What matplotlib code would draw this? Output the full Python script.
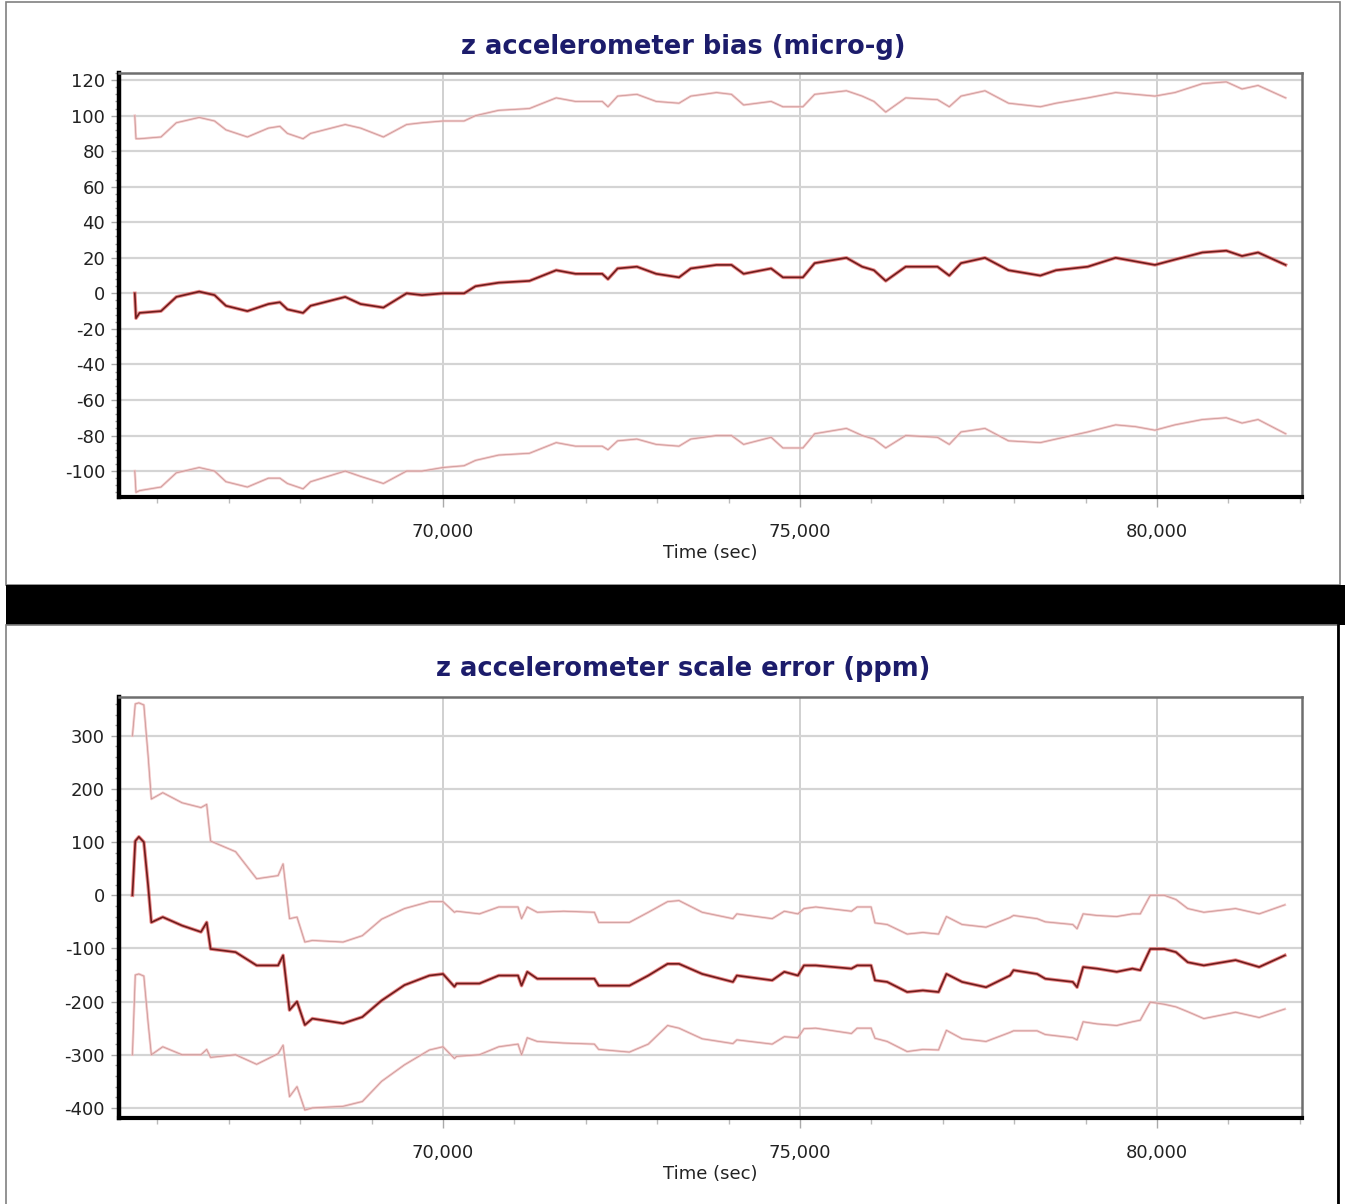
import matplotlib.pyplot as plt
import matplotlib.ticker as mticker
from matplotlib.patches import Rectangle

plt.rcParams['axes.unicode_minus'] = False

# z accelerometer bias (micro-g): estimate and +/- bounds
t_bias = [65683, 65700, 65750, 66050, 66265, 66585, 66800, 66960, 67260, 67555,
          67715, 67820, 68040, 68145, 68630, 68845, 69165, 69490, 69705, 70000,
          70295, 70455, 70780, 71210, 71585, 71855, 72230, 72310, 72445, 72715,
          72985, 73305, 73470, 73830, 74040, 74210, 74595, 74760, 75040, 75205,
          75650, 75870, 76035, 76200, 76480, 76925, 77090, 77255, 77590, 77920,
          78365, 78585, 79030, 79420, 79695, 79970, 80250, 80635, 80970, 81190,
          81415, 81800]
bias_mid = [0, -14, -11, -10, -2, 1, -1, -7, -10, -6,
            -5, -9, -11, -7, -2, -6, -8, 0, -1, 0,
            0, 4, 6, 7, 13, 11, 11, 8, 14, 15,
            11, 9, 14, 16, 16, 11, 14, 9, 9, 17,
            20, 15, 13, 7, 15, 15, 10, 17, 20, 13,
            10, 13, 15, 20, 18, 16, 19, 23, 24, 21,
            23, 16]
bias_up = [100, 87, 87, 88, 96, 99, 97, 92, 88, 93,
           94, 90, 87, 90, 95, 93, 88, 95, 96, 97,
           97, 100, 103, 104, 110, 108, 108, 105, 111, 112,
           108, 107, 111, 113, 112, 106, 108, 105, 105, 112,
           114, 111, 108, 102, 110, 109, 105, 111, 114, 107,
           105, 107, 110, 113, 112, 111, 113, 118, 119, 115,
           117, 110]
bias_lo = [-100, -112, -111, -109, -101, -98, -100, -106, -109, -104,
           -104, -107, -110, -106, -100, -103, -107, -100, -100, -98,
           -97, -94, -91, -90, -84, -86, -86, -88, -83, -82,
           -85, -86, -82, -80, -80, -85, -81, -87, -87, -79,
           -76, -80, -82, -87, -80, -81, -85, -78, -76, -83,
           -84, -82, -78, -74, -75, -77, -74, -71, -70, -73,
           -71, -79]

# z accelerometer scale error (ppm): estimate and +/- bounds
t_scale = [65650, 65690, 65740, 65810, 65870, 65915, 66075, 66345, 66610, 66690,
           66745, 67095, 67390, 67690, 67760, 67850, 67955, 68065, 68170, 68600,
           68870, 69140, 69460, 69810, 70000, 70160, 70190, 70510, 70780, 71050,
           71100, 71180, 71320, 71690, 72120, 72180, 72610, 72875, 73145, 73305,
           73630, 74060, 74115, 74610, 74780, 74970, 75055, 75220, 75720, 75800,
           75995, 76050, 76220, 76500, 76720, 76940, 77050, 77270, 77605, 77940,
           77990, 78320, 78435, 78820, 78880, 78965, 79160, 79435, 79655, 79765,
           79905, 80100, 80265, 80430, 80655, 81100, 81430, 81790]
scale_mid = [0, 102, 110, 100, 18, -51, -41, -57, -69, -51,
             -101, -107, -132, -132, -113, -216, -200, -244, -232, -241,
             -229, -198, -169, -151, -148, -172, -166, -166, -151, -151,
             -170, -144, -157, -157, -157, -170, -170, -151, -129, -129,
             -148, -163, -151, -160, -144, -151, -132, -132, -138, -132,
             -132, -160, -163, -182, -179, -182, -148, -163, -173, -151,
             -141, -148, -157, -163, -173, -135, -138, -144, -138, -141,
             -101, -101, -107, -126, -132, -122, -135, -113]
scale_up = [300, 360, 362, 358, 262, 181, 193, 174, 165, 171,
            102, 82, 31, 37, 59, -44, -41, -88, -85, -88,
            -76, -45, -25, -12, -12, -32, -30, -35, -22, -22,
            -44, -22, -32, -30, -32, -51, -51, -32, -12, -10,
            -32, -44, -35, -44, -30, -35, -25, -22, -30, -22,
            -22, -52, -55, -73, -70, -73, -40, -55, -60, -42,
            -38, -44, -50, -55, -63, -35, -38, -40, -35, -35,
            0, 0, -8, -25, -32, -25, -35, -18]
scale_lo = [-300, -150, -148, -152, -240, -300, -285, -300, -300, -290,
            -305, -300, -318, -298, -282, -379, -360, -404, -400, -397,
            -388, -350, -319, -291, -285, -307, -303, -300, -285, -280,
            -300, -268, -275, -278, -280, -290, -295, -280, -245, -250,
            -270, -279, -272, -280, -266, -268, -251, -250, -260, -250,
            -250, -269, -275, -294, -290, -291, -254, -270, -275, -258,
            -255, -255, -262, -268, -272, -238, -242, -245, -238, -235,
            -201, -205, -210, -219, -232, -220, -230, -214]

x_ticks = [70000, 75000, 80000]
bias_ticks = list(range(-100, 121, 20))
scale_ticks = list(range(-400, 301, 100))

W, H = 1345, 1204
fig = plt.figure(figsize=(W / 100, H / 100), dpi=100)
fig.patch.set_facecolor('white')


def px(x0, y0, x1, y1):
    # pixel box -> figure fraction rect
    return [x0 / W, 1 - y1 / H, (x1 - x0) / W, (y1 - y0) / H]


# panel frames and the black separator band
fig.patches.append(Rectangle((6 / W, 1 - 585 / H), 1334 / W, 583 / H, transform=fig.transFigure,
                             fill=False, edgecolor='#808080', lw=1.2))
fig.patches.append(Rectangle((6 / W, 1 - 625 / H), 1 - 6 / W, 40 / H, transform=fig.transFigure,
                             facecolor='black', edgecolor='none'))
fig.patches.append(Rectangle((6 / W, -0.01), 1332 / W, 1 - 625 / H + 0.01, transform=fig.transFigure,
                             fill=False, edgecolor='#808080', lw=1.2))
fig.add_artist(plt.Line2D([1338 / W, 1338 / W], [0, 1 - 625 / H], transform=fig.transFigure,
                          color='black', lw=2))


def style_axes(ax, yticks, ylim, minor_y):
    ax.set_xlim(65462, 82030)
    ax.set_ylim(*ylim)
    ax.set_xticks(x_ticks)
    ax.xaxis.set_major_formatter(mticker.FuncFormatter(lambda v, p: f'{int(v):,}'))
    ax.xaxis.set_minor_locator(mticker.MultipleLocator(1000))
    ax.set_yticks(yticks)
    ax.yaxis.set_minor_locator(mticker.MultipleLocator(minor_y))
    ax.grid(axis='y', color='#d4d4d4', lw=1.6)
    ax.grid(axis='x', color='#c8c8c8', lw=1.2)
    ax.set_axisbelow(True)
    ax.spines['left'].set_linewidth(3.2)
    ax.spines['left'].set_color('black')
    ax.spines['bottom'].set_linewidth(3.0)
    ax.spines['bottom'].set_color('black')
    for s in ('top', 'right'):
        ax.spines[s].set_linewidth(1.8)
        ax.spines[s].set_color('#6e6e6e')
    ax.tick_params(axis='y', which='major', length=6, width=1, color='#aaaaaa',
                   labelsize=13, labelcolor='#222222', pad=4)
    ax.tick_params(axis='y', which='minor', length=3, width=1, color='#999999')
    ax.tick_params(axis='x', which='major', length=7, width=1, color='#aaaaaa',
                   labelsize=13, labelcolor='#222222', pad=12)
    ax.tick_params(axis='x', which='minor', length=4, width=1, color='#bbbbbb')
    ax.set_xlabel('Time (sec)', fontsize=13, color='#222222', labelpad=2)


def draw_lines(ax, t, mid, up, lo):
    for band in (up, lo):
        ax.plot(t, band, color='#f2bcbc', lw=1.8, alpha=0.8)
        ax.plot(t, band, color='#c49494', lw=0.5)
    ax.plot(t, mid, color='#dd3030', lw=2.6, alpha=0.55)
    ax.plot(t, mid, color='#6e1c1c', lw=1.2)


ax1 = fig.add_axes(px(119, 73, 1302, 497))
draw_lines(ax1, t_bias, bias_mid, bias_up, bias_lo)
style_axes(ax1, bias_ticks, (-114.6, 124), 4)

ax2 = fig.add_axes(px(119, 697, 1302, 1118))
draw_lines(ax2, t_scale, scale_mid, scale_up, scale_lo)
style_axes(ax2, scale_ticks, (-419, 373), 20)

title_kw = dict(ha='center', va='center', fontsize=18.5, fontweight='bold', color='#1c1c6b')
fig.text(683 / W, 1 - 47 / H, 'z accelerometer bias (micro-g)', **title_kw)
fig.text(683 / W, 1 - 669 / H, 'z accelerometer scale error (ppm)', **title_kw)

fig.savefig('out.png', dpi=100, facecolor='white')
